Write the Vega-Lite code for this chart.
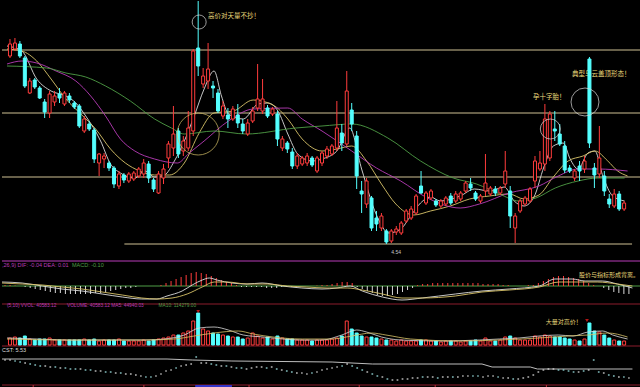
{
"$schema": "https://vega.github.io/schema/vega-lite/v6.json",
"background": "#000000",
"padding": 0,
"spacing": 0,
"config": {"view": {"stroke": null}, "text": {"font": "Noto Sans CJK SC"}},
"resolve": {"scale": {"x": "independent", "y": "independent"}},
"datasets": {
"k": [
{"i":0,"o":6.42,"c":6.54,"h":6.59,"l":6.40,"v":70000,"m":0.01,"s":5.45},
{"i":1,"o":6.49,"c":6.55,"h":6.60,"l":6.47,"v":80000,"m":0.01,"s":5.45},
{"i":2,"o":6.54,"c":6.42,"h":6.57,"l":6.40,"v":70000,"m":0.005,"s":5.40},
{"i":3,"o":6.40,"c":6.12,"h":6.42,"l":6.10,"v":90000,"m":0,"s":5.35},
{"i":4,"o":6.05,"c":6.17,"h":6.20,"l":6.04,"v":60000,"m":-0.01,"s":5.30},
{"i":5,"o":6.18,"c":6.11,"h":6.20,"l":6.09,"v":50000,"m":-0.02,"s":5.25},
{"i":6,"o":6.10,"c":6.00,"h":6.12,"l":5.99,"v":60000,"m":-0.03,"s":5.20},
{"i":7,"o":5.96,"c":5.86,"h":5.99,"l":5.80,"v":60000,"m":-0.04,"s":5.15},
{"i":8,"o":5.85,"c":6.04,"h":6.07,"l":5.80,"v":70000,"m":-0.05,"s":5.15},
{"i":9,"o":5.96,"c":6.02,"h":6.07,"l":5.92,"v":50000,"m":-0.06,"s":5.10},
{"i":10,"o":6.04,"c":6.00,"h":6.10,"l":5.95,"v":50000,"m":-0.07,"s":5.10},
{"i":11,"o":5.94,"c":6.05,"h":6.07,"l":5.92,"v":50000,"m":-0.07,"s":5.05},
{"i":12,"o":6.02,"c":5.98,"h":6.05,"l":5.95,"v":50000,"m":-0.08,"s":5.05},
{"i":13,"o":5.95,"c":5.91,"h":5.97,"l":5.89,"v":50000,"m":-0.08,"s":5.00},
{"i":14,"o":5.92,"c":5.72,"h":5.94,"l":5.70,"v":50000,"m":-0.08,"s":5.00},
{"i":15,"o":5.67,"c":5.79,"h":5.82,"l":5.65,"v":60000,"m":-0.08,"s":5.00},
{"i":16,"o":5.74,"c":5.69,"h":5.77,"l":5.67,"v":50000,"m":-0.08,"s":4.95},
{"i":17,"o":5.68,"c":5.39,"h":5.70,"l":5.35,"v":60000,"m":-0.08,"s":4.95},
{"i":18,"o":5.35,"c":5.44,"h":5.45,"l":5.22,"v":40000,"m":-0.07,"s":4.90},
{"i":19,"o":5.39,"c":5.42,"h":5.45,"l":5.30,"v":50000,"m":-0.07,"s":4.90},
{"i":20,"o":5.35,"c":5.30,"h":5.37,"l":5.27,"v":50000,"m":-0.06,"s":4.85},
{"i":21,"o":5.30,"c":5.14,"h":5.32,"l":5.10,"v":50000,"m":-0.05,"s":4.85},
{"i":22,"o":5.12,"c":5.24,"h":5.27,"l":5.09,"v":60000,"m":-0.04,"s":4.80},
{"i":23,"o":5.23,"c":5.18,"h":5.25,"l":5.15,"v":40000,"m":-0.03,"s":4.80},
{"i":24,"o":5.17,"c":5.24,"h":5.26,"l":5.15,"v":40000,"m":-0.02,"s":4.75},
{"i":25,"o":5.19,"c":5.25,"h":5.27,"l":5.17,"v":40000,"m":-0.02,"s":4.75},
{"i":26,"o":5.22,"c":5.29,"h":5.31,"l":5.20,"v":40000,"m":-0.01,"s":4.70},
{"i":27,"o":5.24,"c":5.35,"h":5.39,"l":5.20,"v":50000,"m":0,"s":4.65},
{"i":28,"o":5.34,"c":5.20,"h":5.37,"l":5.15,"v":40000,"m":0,"s":4.60},
{"i":29,"o":5.18,"c":5.09,"h":5.20,"l":5.06,"v":50000,"m":0,"s":4.60},
{"i":30,"o":5.05,"c":5.24,"h":5.27,"l":5.04,"v":60000,"m":0,"s":4.65},
{"i":31,"o":5.20,"c":5.29,"h":5.34,"l":5.14,"v":70000,"m":0.01,"s":4.75},
{"i":32,"o":5.40,"c":5.54,"h":5.57,"l":5.30,"v":80000,"m":0.03,"s":4.90},
{"i":33,"o":5.50,"c":5.64,"h":5.92,"l":5.42,"v":100000,"m":0.05,"s":4.95},
{"i":34,"o":5.67,"c":5.44,"h":5.70,"l":5.40,"v":100000,"m":0.07,"s":5.05},
{"i":35,"o":5.47,"c":5.57,"h":5.62,"l":5.42,"v":120000,"m":0.09,"s":5.15},
{"i":36,"o":5.50,"c":5.70,"h":5.87,"l":5.47,"v":140000,"m":0.11,"s":5.20},
{"i":37,"o":5.67,"c":6.47,"h":6.49,"l":5.62,"v":240000,"m":0.13,"s":5.25},
{"i":38,"o":6.50,"c":6.32,"h":6.97,"l":6.22,"v":320000,"m":0.14,"s":5.60},
{"i":39,"o":6.14,"c":6.22,"h":6.30,"l":6.10,"v":160000,"m":0.13,"s":5.30},
{"i":40,"o":6.17,"c":6.29,"h":6.55,"l":6.09,"v":140000,"m":0.12,"s":5.30},
{"i":41,"o":6.12,"c":6.10,"h":6.17,"l":6.00,"v":120000,"m":0.10,"s":5.25},
{"i":42,"o":6.05,"c":5.87,"h":6.09,"l":5.85,"v":110000,"m":0.08,"s":5.20},
{"i":43,"o":5.82,"c":5.92,"h":5.97,"l":5.79,"v":100000,"m":0.06,"s":5.15},
{"i":44,"o":5.83,"c":5.79,"h":5.90,"l":5.70,"v":90000,"m":0.04,"s":5.15},
{"i":45,"o":5.79,"c":5.89,"h":5.92,"l":5.77,"v":80000,"m":0.03,"s":5.10},
{"i":46,"o":5.83,"c":5.75,"h":5.94,"l":5.70,"v":80000,"m":0.01,"s":5.05},
{"i":47,"o":5.74,"c":5.67,"h":5.79,"l":5.64,"v":60000,"m":-0.01,"s":5.05},
{"i":48,"o":5.64,"c":5.75,"h":5.79,"l":5.62,"v":70000,"m":-0.01,"s":5.00},
{"i":49,"o":5.77,"c":5.87,"h":5.91,"l":5.75,"v":120000,"m":-0.01,"s":5.05},
{"i":50,"o":5.90,"c":5.99,"h":6.34,"l":5.87,"v":90000,"m":-0.01,"s":5.10},
{"i":51,"o":5.87,"c":5.99,"h":6.19,"l":5.84,"v":70000,"m":-0.01,"s":5.10},
{"i":52,"o":5.90,"c":5.82,"h":5.93,"l":5.80,"v":80000,"m":-0.02,"s":5.05},
{"i":53,"o":5.84,"c":5.89,"h":5.91,"l":5.82,"v":60000,"m":-0.02,"s":5.10},
{"i":54,"o":5.84,"c":5.59,"h":5.87,"l":5.52,"v":90000,"m":-0.02,"s":5.00},
{"i":55,"o":5.50,"c":5.59,"h":5.62,"l":5.47,"v":70000,"m":-0.01,"s":4.95},
{"i":56,"o":5.55,"c":5.49,"h":5.57,"l":5.45,"v":60000,"m":-0.01,"s":4.90},
{"i":57,"o":5.46,"c":5.32,"h":5.50,"l":5.29,"v":60000,"m":-0.01,"s":4.85},
{"i":58,"o":5.32,"c":5.42,"h":5.45,"l":5.29,"v":50000,"m":0,"s":4.80},
{"i":59,"o":5.34,"c":5.40,"h":5.42,"l":5.32,"v":50000,"m":0,"s":4.80},
{"i":60,"o":5.35,"c":5.42,"h":5.45,"l":5.32,"v":50000,"m":0,"s":4.75},
{"i":61,"o":5.40,"c":5.33,"h":5.42,"l":5.31,"v":40000,"m":0,"s":4.80},
{"i":62,"o":5.27,"c":5.40,"h":5.42,"l":5.25,"v":50000,"m":0.005,"s":4.85},
{"i":63,"o":5.35,"c":5.45,"h":5.47,"l":5.32,"v":50000,"m":0.01,"s":4.95},
{"i":64,"o":5.42,"c":5.49,"h":5.52,"l":5.39,"v":50000,"m":0.01,"s":5.00},
{"i":65,"o":5.44,"c":5.52,"h":5.54,"l":5.42,"v":60000,"m":0.02,"s":5.05},
{"i":66,"o":5.50,"c":5.70,"h":5.97,"l":5.47,"v":70000,"m":0.03,"s":5.10},
{"i":67,"o":5.65,"c":5.55,"h":5.74,"l":5.47,"v":90000,"m":0.04,"s":5.15},
{"i":68,"o":5.54,"c":6.07,"h":6.27,"l":5.52,"v":240000,"m":0.04,"s":5.25},
{"i":69,"o":5.88,"c":5.74,"h":5.95,"l":5.67,"v":160000,"m":0.03,"s":5.15},
{"i":70,"o":5.62,"c":5.22,"h":5.67,"l":5.09,"v":120000,"m":-0.01,"s":5.05},
{"i":71,"o":5.07,"c":5.04,"h":5.17,"l":4.85,"v":90000,"m":-0.03,"s":4.95},
{"i":72,"o":4.94,"c":5.17,"h":5.20,"l":4.90,"v":80000,"m":-0.05,"s":4.85},
{"i":73,"o":5.00,"c":4.70,"h":5.02,"l":4.67,"v":80000,"m":-0.07,"s":4.75},
{"i":74,"o":4.80,"c":4.74,"h":4.87,"l":4.67,"v":70000,"m":-0.09,"s":4.65},
{"i":75,"o":4.70,"c":4.82,"h":4.85,"l":4.67,"v":60000,"m":-0.10,"s":4.60},
{"i":76,"o":4.67,"c":4.56,"h":4.69,"l":4.54,"v":50000,"m":-0.10,"s":4.50},
{"i":77,"o":4.57,"c":4.67,"h":4.69,"l":4.55,"v":50000,"m":-0.09,"s":4.45},
{"i":78,"o":4.66,"c":4.69,"h":4.72,"l":4.63,"v":40000,"m":-0.08,"s":4.45},
{"i":79,"o":4.65,"c":4.75,"h":4.77,"l":4.63,"v":50000,"m":-0.06,"s":4.50},
{"i":80,"o":4.77,"c":4.87,"h":4.89,"l":4.75,"v":40000,"m":-0.04,"s":4.50},
{"i":81,"o":4.80,"c":4.89,"h":4.92,"l":4.78,"v":40000,"m":-0.02,"s":4.55},
{"i":82,"o":4.85,"c":5.02,"h":5.04,"l":4.83,"v":40000,"m":0.01,"s":4.55},
{"i":83,"o":5.12,"c":5.05,"h":5.27,"l":5.04,"v":50000,"m":0.02,"s":4.60},
{"i":84,"o":4.95,"c":5.05,"h":5.07,"l":4.93,"v":50000,"m":0.02,"s":4.60},
{"i":85,"o":5.00,"c":5.07,"h":5.09,"l":4.98,"v":40000,"m":0.03,"s":4.60},
{"i":86,"o":4.97,"c":4.93,"h":4.99,"l":4.91,"v":40000,"m":0.03,"s":4.55},
{"i":87,"o":4.92,"c":4.97,"h":4.99,"l":4.90,"v":30000,"m":0.03,"s":4.60},
{"i":88,"o":4.94,"c":5.00,"h":5.02,"l":4.92,"v":40000,"m":0.03,"s":4.60},
{"i":89,"o":5.02,"c":4.95,"h":5.05,"l":4.93,"v":40000,"m":0.03,"s":4.60},
{"i":90,"o":4.97,"c":5.04,"h":5.07,"l":4.95,"v":40000,"m":0.03,"s":4.60},
{"i":91,"o":4.99,"c":5.05,"h":5.07,"l":4.97,"v":30000,"m":0.03,"s":4.65},
{"i":92,"o":5.07,"c":5.15,"h":5.17,"l":5.05,"v":40000,"m":0.03,"s":4.65},
{"i":93,"o":5.14,"c":5.10,"h":5.20,"l":5.07,"v":40000,"m":0.03,"s":4.65},
{"i":94,"o":5.05,"c":4.99,"h":5.07,"l":4.97,"v":50000,"m":0.03,"s":4.65},
{"i":95,"o":4.97,"c":5.02,"h":5.04,"l":4.95,"v":40000,"m":0.02,"s":4.60},
{"i":96,"o":5.07,"c":5.15,"h":5.44,"l":5.02,"v":70000,"m":0.02,"s":4.65},
{"i":97,"o":5.04,"c":5.10,"h":5.12,"l":5.02,"v":40000,"m":0.02,"s":4.65},
{"i":98,"o":5.09,"c":5.05,"h":5.12,"l":5.02,"v":40000,"m":0.02,"s":4.60},
{"i":99,"o":5.05,"c":5.10,"h":5.12,"l":5.03,"v":50000,"m":0.01,"s":4.55},
{"i":100,"o":5.14,"c":5.27,"h":5.47,"l":5.10,"v":80000,"m":0.01,"s":4.55},
{"i":101,"o":5.07,"c":4.82,"h":5.12,"l":4.70,"v":90000,"m":0,"s":4.50},
{"i":102,"o":4.70,"c":4.82,"h":4.85,"l":4.55,"v":70000,"m":0,"s":4.50},
{"i":103,"o":4.87,"c":4.97,"h":4.99,"l":4.85,"v":50000,"m":0,"s":4.55},
{"i":104,"o":4.94,"c":5.00,"h":5.02,"l":4.92,"v":50000,"m":0.01,"s":4.60},
{"i":105,"o":4.97,"c":5.09,"h":5.11,"l":4.95,"v":50000,"m":0.01,"s":4.70},
{"i":106,"o":5.17,"c":5.37,"h":5.42,"l":5.10,"v":90000,"m":0.03,"s":4.85},
{"i":107,"o":5.29,"c":5.35,"h":5.47,"l":5.27,"v":80000,"m":0.05,"s":4.95},
{"i":108,"o":5.34,"c":5.79,"h":5.94,"l":5.27,"v":100000,"m":0.07,"s":5.00},
{"i":109,"o":5.40,"c":5.84,"h":5.87,"l":5.37,"v":90000,"m":0.09,"s":5.00},
{"i":110,"o":5.69,"c":5.67,"h":5.87,"l":5.57,"v":80000,"m":0.10,"s":4.95},
{"i":111,"o":5.64,"c":5.54,"h":5.74,"l":5.52,"v":80000,"m":0.10,"s":4.95},
{"i":112,"o":5.52,"c":5.28,"h":5.57,"l":5.25,"v":70000,"m":0.09,"s":4.90},
{"i":113,"o":5.30,"c":5.27,"h":5.33,"l":5.25,"v":60000,"m":0.08,"s":4.85},
{"i":114,"o":5.20,"c":5.27,"h":5.29,"l":5.17,"v":50000,"m":0.07,"s":4.85},
{"i":115,"o":5.32,"c":5.27,"h":5.37,"l":5.17,"v":40000,"m":0.05,"s":4.90},
{"i":116,"o":5.29,"c":5.37,"h":5.42,"l":5.25,"v":60000,"m":0.03,"s":4.95},
{"i":117,"o":6.39,"c":5.55,"h":6.41,"l":5.50,"v":220000,"m":0.01,"s":5.45},
{"i":118,"o":5.30,"c":5.23,"h":5.35,"l":5.10,"v":140000,"m":0,"s":4.85},
{"i":119,"o":5.24,"c":5.40,"h":5.72,"l":5.20,"v":130000,"m":-0.02,"s":4.80},
{"i":120,"o":5.22,"c":5.07,"h":5.27,"l":5.02,"v":100000,"m":-0.04,"s":4.70},
{"i":121,"o":4.99,"c":4.94,"h":5.04,"l":4.90,"v":70000,"m":-0.06,"s":4.65},
{"i":122,"o":4.92,"c":5.04,"h":5.09,"l":4.90,"v":50000,"m":-0.07,"s":4.60},
{"i":123,"o":5.04,"c":4.89,"h":5.07,"l":4.87,"v":40000,"m":-0.08,"s":4.60},
{"i":124,"o":4.89,"c":4.95,"h":4.97,"l":4.87,"v":40000,"m":-0.08,"s":4.55}
],
"ma": [
{"n":"MA5","i":-0.6,"p":6.52},{"n":"MA5","i":2.4,"p":6.47},{"n":"MA5","i":5.4,"p":6.19},{"n":"MA5","i":8.3,"p":6.07},{"n":"MA5","i":11.3,"p":6.02},{"n":"MA5","i":13.3,"p":5.95},{"n":"MA5","i":15.3,"p":5.82},{"n":"MA5","i":18.3,"p":5.57},{"n":"MA5","i":20.3,"p":5.34},{"n":"MA5","i":22.3,"p":5.25},{"n":"MA5","i":25.2,"p":5.20},{"n":"MA5","i":27.2,"p":5.27},{"n":"MA5","i":29.2,"p":5.21},{"n":"MA5","i":31.2,"p":5.23},{"n":"MA5","i":33.2,"p":5.37},{"n":"MA5","i":35.2,"p":5.57},{"n":"MA5","i":37.2,"p":5.82},{"n":"MA5","i":39.2,"p":6.09},{"n":"MA5","i":41.2,"p":6.27},{"n":"MA5","i":42.7,"p":6.02},{"n":"MA5","i":44.1,"p":5.84},{"n":"MA5","i":47.1,"p":5.79},{"n":"MA5","i":50.1,"p":5.94},{"n":"MA5","i":52.1,"p":5.95},{"n":"MA5","i":54.1,"p":5.87},{"n":"MA5","i":56.1,"p":5.64},{"n":"MA5","i":58.1,"p":5.44},{"n":"MA5","i":61.0,"p":5.37},{"n":"MA5","i":63.0,"p":5.39},{"n":"MA5","i":66.0,"p":5.47},{"n":"MA5","i":68.6,"p":5.70},{"n":"MA5","i":71.0,"p":5.29},{"n":"MA5","i":74.0,"p":4.83},{"n":"MA5","i":76.5,"p":4.65},{"n":"MA5","i":78.9,"p":4.69},{"n":"MA5","i":80.9,"p":4.82},{"n":"MA5","i":82.9,"p":4.95},{"n":"MA5","i":84.9,"p":5.01},{"n":"MA5","i":86.9,"p":4.97},{"n":"MA5","i":90.9,"p":5.02},{"n":"MA5","i":93.8,"p":5.09},{"n":"MA5","i":96.8,"p":5.07},{"n":"MA5","i":99.8,"p":5.11},{"n":"MA5","i":101.8,"p":4.97},{"n":"MA5","i":103.8,"p":4.92},{"n":"MA5","i":105.8,"p":5.01},{"n":"MA5","i":107.8,"p":5.31},{"n":"MA5","i":109.7,"p":5.52},{"n":"MA5","i":111.7,"p":5.55},{"n":"MA5","i":113.1,"p":5.39},{"n":"MA5","i":114.7,"p":5.29},{"n":"MA5","i":116.7,"p":5.45},{"n":"MA5","i":118.1,"p":5.47},{"n":"MA5","i":119.7,"p":5.22},{"n":"MA5","i":121.7,"p":5.02},{"n":"MA5","i":124.1,"p":4.97},
{"n":"MA10","i":-0.6,"p":6.49},{"n":"MA10","i":2.4,"p":6.47},{"n":"MA10","i":5.4,"p":6.37},{"n":"MA10","i":8.3,"p":6.19},{"n":"MA10","i":11.3,"p":5.99},{"n":"MA10","i":14.3,"p":5.84},{"n":"MA10","i":17.3,"p":5.69},{"n":"MA10","i":20.3,"p":5.49},{"n":"MA10","i":23.3,"p":5.35},{"n":"MA10","i":26.2,"p":5.27},{"n":"MA10","i":29.2,"p":5.23},{"n":"MA10","i":32.2,"p":5.23},{"n":"MA10","i":35.2,"p":5.35},{"n":"MA10","i":38.2,"p":5.65},{"n":"MA10","i":41.2,"p":5.85},{"n":"MA10","i":45.1,"p":5.87},{"n":"MA10","i":49.1,"p":5.98},{"n":"MA10","i":53.1,"p":5.93},{"n":"MA10","i":56.1,"p":5.79},{"n":"MA10","i":59.0,"p":5.59},{"n":"MA10","i":63.0,"p":5.47},{"n":"MA10","i":66.0,"p":5.49},{"n":"MA10","i":69.0,"p":5.52},{"n":"MA10","i":72.0,"p":5.37},{"n":"MA10","i":75.0,"p":5.14},{"n":"MA10","i":77.9,"p":4.94},{"n":"MA10","i":81.5,"p":4.83},{"n":"MA10","i":84.9,"p":4.87},{"n":"MA10","i":88.9,"p":4.92},{"n":"MA10","i":92.8,"p":4.99},{"n":"MA10","i":96.8,"p":5.02},{"n":"MA10","i":100.8,"p":5.04},{"n":"MA10","i":103.8,"p":4.99},{"n":"MA10","i":106.8,"p":5.03},{"n":"MA10","i":109.7,"p":5.21},{"n":"MA10","i":112.7,"p":5.37},{"n":"MA10","i":115.7,"p":5.42},{"n":"MA10","i":118.1,"p":5.47},{"n":"MA10","i":120.7,"p":5.37},{"n":"MA10","i":122.7,"p":5.27},{"n":"MA10","i":124.7,"p":5.22},
{"n":"MA20","i":-0.6,"p":6.34},{"n":"MA20","i":2.4,"p":6.37},{"n":"MA20","i":5.4,"p":6.35},{"n":"MA20","i":9.3,"p":6.27},{"n":"MA20","i":13.3,"p":6.17},{"n":"MA20","i":16.3,"p":6.02},{"n":"MA20","i":19.3,"p":5.82},{"n":"MA20","i":22.3,"p":5.59},{"n":"MA20","i":25.2,"p":5.47},{"n":"MA20","i":29.2,"p":5.39},{"n":"MA20","i":33.8,"p":5.35},{"n":"MA20","i":36.2,"p":5.45},{"n":"MA20","i":39.2,"p":5.57},{"n":"MA20","i":44.1,"p":5.77},{"n":"MA20","i":49.1,"p":5.89},{"n":"MA20","i":56.1,"p":5.90},{"n":"MA20","i":59.0,"p":5.79},{"n":"MA20","i":63.0,"p":5.67},{"n":"MA20","i":69.0,"p":5.47},{"n":"MA20","i":74.0,"p":5.30},{"n":"MA20","i":78.9,"p":5.17},{"n":"MA20","i":84.3,"p":5.00},{"n":"MA20","i":90.9,"p":4.90},{"n":"MA20","i":94.8,"p":4.94},{"n":"MA20","i":100.8,"p":5.05},{"n":"MA20","i":106.8,"p":5.12},{"n":"MA20","i":110.7,"p":5.22},{"n":"MA20","i":114.7,"p":5.29},{"n":"MA20","i":118.7,"p":5.29},{"n":"MA20","i":124.7,"p":5.27},
{"n":"MA60","i":-0.6,"p":6.32},{"n":"MA60","i":7.4,"p":6.30},{"n":"MA60","i":11.3,"p":6.25},{"n":"MA60","i":15.3,"p":6.21},{"n":"MA60","i":19.3,"p":6.12},{"n":"MA60","i":24.3,"p":5.97},{"n":"MA60","i":29.2,"p":5.79},{"n":"MA60","i":32.6,"p":5.70},{"n":"MA60","i":35.2,"p":5.64},{"n":"MA60","i":41.2,"p":5.67},{"n":"MA60","i":47.7,"p":5.64},{"n":"MA60","i":57.7,"p":5.70},{"n":"MA60","i":63.0,"p":5.72},{"n":"MA60","i":69.0,"p":5.74},{"n":"MA60","i":76.3,"p":5.60},{"n":"MA60","i":82.9,"p":5.37},{"n":"MA60","i":89.5,"p":5.20},{"n":"MA60","i":94.2,"p":5.14},{"n":"MA60","i":98.8,"p":5.04},{"n":"MA60","i":102.8,"p":4.97},{"n":"MA60","i":106.2,"p":5.00},{"n":"MA60","i":110.1,"p":5.10},{"n":"MA60","i":114.7,"p":5.17},{"n":"MA60","i":118.7,"p":5.20},{"n":"MA60","i":124.1,"p":5.20}
],
"macd": [
{"n":"DIF","i":-0.6,"v":0.04},{"n":"DIF","i":3.4,"v":0.03},{"n":"DIF","i":7.4,"v":0},{"n":"DIF","i":11.3,"v":-0.03},{"n":"DIF","i":15.3,"v":-0.05},{"n":"DIF","i":19.3,"v":-0.08},{"n":"DIF","i":23.3,"v":-0.11},{"n":"DIF","i":27.2,"v":-0.13},{"n":"DIF","i":30.2,"v":-0.13},{"n":"DIF","i":32.2,"v":-0.10},{"n":"DIF","i":35.2,"v":-0.05},{"n":"DIF","i":37.2,"v":0.01},{"n":"DIF","i":39.2,"v":0.06},{"n":"DIF","i":40.6,"v":0.08},{"n":"DIF","i":42.1,"v":0.06},{"n":"DIF","i":45.1,"v":0.03},{"n":"DIF","i":48.1,"v":0.02},{"n":"DIF","i":51.1,"v":0.03},{"n":"DIF","i":55.1,"v":0},{"n":"DIF","i":59.0,"v":-0.02},{"n":"DIF","i":63.0,"v":-0.03},{"n":"DIF","i":66.0,"v":-0.02},{"n":"DIF","i":68.6,"v":0},{"n":"DIF","i":71.0,"v":-0.05},{"n":"DIF","i":75.0,"v":-0.11},{"n":"DIF","i":78.9,"v":-0.14},{"n":"DIF","i":82.9,"v":-0.12},{"n":"DIF","i":89.5,"v":-0.08},{"n":"DIF","i":94.8,"v":-0.05},{"n":"DIF","i":100.2,"v":-0.03},{"n":"DIF","i":106.2,"v":0},{"n":"DIF","i":109.3,"v":0.07},{"n":"DIF","i":112.7,"v":0.07},{"n":"DIF","i":115.3,"v":0.05},{"n":"DIF","i":118.7,"v":0.05},{"n":"DIF","i":121.7,"v":0.02},{"n":"DIF","i":124.7,"v":-0.02},
{"n":"DEA","i":-0.6,"v":0.03},{"n":"DEA","i":3.4,"v":0.02},{"n":"DEA","i":7.4,"v":0.01},{"n":"DEA","i":11.3,"v":-0.01},{"n":"DEA","i":15.3,"v":-0.03},{"n":"DEA","i":19.3,"v":-0.06},{"n":"DEA","i":23.3,"v":-0.09},{"n":"DEA","i":27.2,"v":-0.12},{"n":"DEA","i":30.2,"v":-0.13},{"n":"DEA","i":33.2,"v":-0.12},{"n":"DEA","i":36.2,"v":-0.08},{"n":"DEA","i":39.2,"v":-0.01},{"n":"DEA","i":41.6,"v":0.04},{"n":"DEA","i":44.1,"v":0.04},{"n":"DEA","i":48.1,"v":0.02},{"n":"DEA","i":52.1,"v":0.02},{"n":"DEA","i":56.1,"v":0},{"n":"DEA","i":60.0,"v":-0.01},{"n":"DEA","i":64.0,"v":-0.02},{"n":"DEA","i":68.0,"v":-0.02},{"n":"DEA","i":71.0,"v":-0.04},{"n":"DEA","i":75.0,"v":-0.08},{"n":"DEA","i":78.9,"v":-0.12},{"n":"DEA","i":82.9,"v":-0.12},{"n":"DEA","i":89.5,"v":-0.10},{"n":"DEA","i":94.8,"v":-0.06},{"n":"DEA","i":100.2,"v":-0.04},{"n":"DEA","i":106.2,"v":-0.01},{"n":"DEA","i":110.1,"v":0.04},{"n":"DEA","i":113.7,"v":0.04},{"n":"DEA","i":117.7,"v":0.04},{"n":"DEA","i":121.7,"v":0.02},{"n":"DEA","i":124.7,"v":0}
],
"vma": [
{"n":"M5","i":-0.6,"v":70000},{"n":"M5","i":5.4,"v":60000},{"n":"M5","i":11.3,"v":50000},{"n":"M5","i":19.3,"v":50000},{"n":"M5","i":27.2,"v":50000},{"n":"M5","i":31.2,"v":60000},{"n":"M5","i":35.2,"v":100000},{"n":"M5","i":38.2,"v":170000},{"n":"M5","i":41.2,"v":180000},{"n":"M5","i":44.1,"v":150000},{"n":"M5","i":47.1,"v":100000},{"n":"M5","i":51.1,"v":80000},{"n":"M5","i":55.1,"v":60000},{"n":"M5","i":59.0,"v":50000},{"n":"M5","i":63.0,"v":50000},{"n":"M5","i":67.0,"v":100000},{"n":"M5","i":70.0,"v":150000},{"n":"M5","i":72.0,"v":130000},{"n":"M5","i":75.0,"v":80000},{"n":"M5","i":78.9,"v":50000},{"n":"M5","i":86.9,"v":40000},{"n":"M5","i":94.8,"v":50000},{"n":"M5","i":98.8,"v":60000},{"n":"M5","i":102.8,"v":70000},{"n":"M5","i":106.8,"v":90000},{"n":"M5","i":110.7,"v":100000},{"n":"M5","i":113.7,"v":90000},{"n":"M5","i":116.7,"v":130000},{"n":"M5","i":119.7,"v":140000},{"n":"M5","i":121.7,"v":100000},{"n":"M5","i":124.7,"v":60000},
{"n":"M10","i":-0.6,"v":60000},{"n":"M10","i":11.3,"v":50000},{"n":"M10","i":27.2,"v":50000},{"n":"M10","i":33.2,"v":60000},{"n":"M10","i":37.2,"v":90000},{"n":"M10","i":41.2,"v":120000},{"n":"M10","i":46.1,"v":140000},{"n":"M10","i":49.1,"v":110000},{"n":"M10","i":53.1,"v":80000},{"n":"M10","i":59.0,"v":60000},{"n":"M10","i":65.0,"v":60000},{"n":"M10","i":69.0,"v":90000},{"n":"M10","i":73.0,"v":120000},{"n":"M10","i":75.9,"v":100000},{"n":"M10","i":80.9,"v":60000},{"n":"M10","i":90.9,"v":40000},{"n":"M10","i":98.8,"v":50000},{"n":"M10","i":106.8,"v":70000},{"n":"M10","i":112.7,"v":90000},{"n":"M10","i":116.7,"v":100000},{"n":"M10","i":120.7,"v":120000},{"n":"M10","i":124.7,"v":80000}
],
"cst": [
{"i":-0.6,"s":5.50},{"i":32.2,"s":5.50},{"i":37.2,"s":5.45},{"i":45.1,"s":5.40},{"i":65.0,"s":5.35},{"i":73.0,"s":5.25},{"i":94.8,"s":5.25},{"i":96.8,"s":5.10},{"i":104.4,"s":5.10},{"i":105.8,"s":5.00},{"i":124.7,"s":5.00}
]
},
"vconcat": [
{
"width": 640, "height": 258,
"layer": [
{"data": {"values": [{"p":6.48},{"p":5.85},{"p":5.21}]},
 "mark": {"type": "rule", "color": "#cfc194", "strokeWidth": 1},
 "encoding": {"y": {"field": "p", "type": "quantitative", "scale": {"domain": [4.39, 6.97], "nice": false, "zero": false}, "axis": null}}},
{"data": {"values": [{"p":4.54,"a":23.1,"b":125.6}]},
 "mark": {"type": "rule", "color": "#cfc194", "strokeWidth": 1},
 "encoding": {"x": {"field": "a", "type": "quantitative", "scale": {"domain": [-0.6, 126.6], "nice": false, "zero": false}, "axis": null}, "x2": {"field": "b"},
   "y": {"field": "p", "type": "quantitative", "scale": {"domain": [4.39, 6.97], "nice": false, "zero": false}, "axis": null}}},
{"data": {"values": [{"i":40.0,"p":6.82,"t":"高价对天量不抄！"},{"i":105.6,"p":6.01,"t":"孕十字胎！"},{"i":113.5,"p":6.24,"t":"典型乌云盖顶形态！"}]},
 "mark": {"type": "text", "align": "left", "baseline": "middle", "fontSize": 6.5, "color": "#e8d77a"},
 "encoding": {"x": {"field": "i", "type": "quantitative", "scale": {"domain": [-0.6, 126.6], "nice": false, "zero": false}, "axis": null},
   "y": {"field": "p", "type": "quantitative", "scale": {"domain": [4.39, 6.97], "nice": false, "zero": false}, "axis": null},
   "text": {"field": "t"}}},
{"data": {"name": "ma"},
 "mark": {"type": "line", "strokeWidth": 0.9, "interpolate": "monotone"},
 "encoding": {"x": {"field": "i", "type": "quantitative", "scale": {"domain": [-0.6, 126.6], "nice": false, "zero": false}, "axis": null},
   "y": {"field": "p", "type": "quantitative", "scale": {"domain": [4.39, 6.97], "nice": false, "zero": false}, "axis": null},
   "color": {"field": "n", "type": "nominal", "scale": {"domain": ["MA5","MA10","MA20","MA60"], "range": ["#dcdcdc","#d9c46a","#b93cb9","#4f9e46"]}, "legend": null}}},
{"data": {"name": "k"},
 "mark": {"type": "rule", "strokeWidth": 1},
 "encoding": {"x": {"field": "i", "type": "quantitative", "scale": {"domain": [-0.6, 126.6], "nice": false, "zero": false}, "axis": null},
   "y": {"field": "l", "type": "quantitative", "scale": {"domain": [4.39, 6.97], "nice": false, "zero": false}, "axis": null},
   "y2": {"field": "h"},
   "color": {"condition": {"test": "datum.c >= datum.o", "value": "#ff3c3c"}, "value": "#54ffff"}}},
{"data": {"name": "k"},
 "mark": {"type": "bar", "size": 3, "strokeWidth": 1},
 "encoding": {"x": {"field": "i", "type": "quantitative", "scale": {"domain": [-0.6, 126.6], "nice": false, "zero": false}, "axis": null},
   "y": {"field": "o", "type": "quantitative", "scale": {"domain": [4.39, 6.97], "nice": false, "zero": false}, "axis": null},
   "y2": {"field": "c"},
   "fill": {"condition": {"test": "datum.c >= datum.o", "value": "#000000"}, "value": "#54ffff"},
   "stroke": {"condition": {"test": "datum.c >= datum.o", "value": "#ff3c3c"}, "value": "#54ffff"}}},
{"data": {"values": [{"i":38.2,"p":6.76,"z":196,"k":"a"},{"i":38.0,"p":5.64,"z":1764,"k":"b"},{"i":109.1,"p":5.69,"z":400,"k":"a"},{"i":116.1,"p":5.96,"z":784,"k":"a"}]},
 "mark": {"type": "point", "shape": "circle", "filled": false, "strokeWidth": 1},
 "encoding": {"x": {"field": "i", "type": "quantitative", "scale": {"domain": [-0.6, 126.6], "nice": false, "zero": false}, "axis": null},
   "y": {"field": "p", "type": "quantitative", "scale": {"domain": [4.39, 6.97], "nice": false, "zero": false}, "axis": null},
   "size": {"field": "z", "type": "quantitative", "scale": null},
   "color": {"field": "k", "type": "nominal", "scale": {"domain": ["a","b"], "range": ["#d6cfae","#b8a452"]}, "legend": null}}},
{"data": {"values": [{"i":77.0,"p":4.46,"t":"4.54"}]},
 "mark": {"type": "text", "align": "left", "baseline": "middle", "fontSize": 5, "color": "#c8c8c8", "font": "Liberation Sans"},
 "encoding": {"x": {"field": "i", "type": "quantitative", "scale": {"domain": [-0.6, 126.6], "nice": false, "zero": false}, "axis": null},
   "y": {"field": "p", "type": "quantitative", "scale": {"domain": [4.39, 6.97], "nice": false, "zero": false}, "axis": null},
   "text": {"field": "t"}}}
]
},
{
"width": 640, "height": 42,
"layer": [
{"data": {"values": [{"m":0.25,"c":"r"},{"m":0,"c":"z"}]},
 "mark": {"type": "rule", "strokeWidth": 1},
 "encoding": {"y": {"field": "m", "type": "quantitative", "scale": {"domain": [-0.15, 0.27], "nice": false, "zero": false}, "axis": null},
   "color": {"field": "c", "type": "nominal", "scale": {"domain": ["r","z"], "range": ["#8c1c2c","#8a8a8a"]}, "legend": null}}},
{"data": {"name": "k"},
 "mark": {"type": "rule", "strokeWidth": 1},
 "encoding": {"x": {"field": "i", "type": "quantitative", "scale": {"domain": [-0.6, 126.6], "nice": false, "zero": false}, "axis": null},
   "y": {"field": "m", "type": "quantitative", "scale": {"domain": [-0.15, 0.27], "nice": false, "zero": false}, "axis": null},
   "y2": {"datum": 0},
   "color": {"condition": {"test": "datum.m >= 0", "value": "#ff3c3c"}, "value": "#d8d8d8"}}},
{"data": {"name": "macd"},
 "mark": {"type": "line", "strokeWidth": 0.9, "interpolate": "monotone"},
 "encoding": {"x": {"field": "i", "type": "quantitative", "scale": {"domain": [-0.6, 126.6], "nice": false, "zero": false}, "axis": null},
   "y": {"field": "v", "type": "quantitative", "scale": {"domain": [-0.15, 0.27], "nice": false, "zero": false}, "axis": null},
   "color": {"field": "n", "type": "nominal", "scale": {"domain": ["DIF","DEA"], "range": ["#e6e6e6","#d9c46a"]}, "legend": null}}},
{"data": {"values": [{"i":-0.6,"m":0.21,"t":",26,9) DIF: -0.04  DEA: 0.01","k":"w"},{"i":13.3,"m":0.21,"t":"MACD: -0.10","k":"p"}]},
 "mark": {"type": "text", "align": "left", "baseline": "middle", "fontSize": 5.5, "font": "Liberation Sans"},
 "encoding": {"x": {"field": "i", "type": "quantitative", "scale": {"domain": [-0.6, 126.6], "nice": false, "zero": false}, "axis": null},
   "y": {"field": "m", "type": "quantitative", "scale": {"domain": [-0.15, 0.27], "nice": false, "zero": false}, "axis": null},
   "text": {"field": "t"},
   "color": {"field": "k", "type": "nominal", "scale": {"domain": ["w","p"], "range": ["#dcdcdc","#d040d0"]}, "legend": null}}},
{"data": {"values": [{"i":114.1,"m":0.11,"t":"股价与指标形成背离。"}]},
 "mark": {"type": "text", "align": "left", "baseline": "middle", "fontSize": 6, "color": "#e8d77a"},
 "encoding": {"x": {"field": "i", "type": "quantitative", "scale": {"domain": [-0.6, 126.6], "nice": false, "zero": false}, "axis": null},
   "y": {"field": "m", "type": "quantitative", "scale": {"domain": [-0.15, 0.27], "nice": false, "zero": false}, "axis": null},
   "text": {"field": "t"}}}
]
},
{
"width": 640, "height": 45,
"layer": [
{"data": {"values": [{"v":410000},{"v":-10000}]},
 "mark": {"type": "rule", "strokeWidth": 1, "color": "#8c1c2c"},
 "encoding": {"y": {"field": "v", "type": "quantitative", "scale": {"domain": [-20000, 430000], "nice": false, "zero": false}, "axis": null}}},
{"data": {"name": "k"},
 "mark": {"type": "bar", "size": 3, "strokeWidth": 1},
 "encoding": {"x": {"field": "i", "type": "quantitative", "scale": {"domain": [-0.6, 126.6], "nice": false, "zero": false}, "axis": null},
   "y": {"field": "v", "type": "quantitative", "scale": {"domain": [-20000, 430000], "nice": false, "zero": false}, "axis": null},
   "y2": {"datum": 0},
   "fill": {"condition": {"test": "datum.c >= datum.o", "value": "#000000"}, "value": "#54ffff"},
   "stroke": {"condition": {"test": "datum.c >= datum.o", "value": "#ff3c3c"}, "value": "#54ffff"}}},
{"data": {"name": "vma"},
 "mark": {"type": "line", "strokeWidth": 0.8, "interpolate": "monotone"},
 "encoding": {"x": {"field": "i", "type": "quantitative", "scale": {"domain": [-0.6, 126.6], "nice": false, "zero": false}, "axis": null},
   "y": {"field": "v", "type": "quantitative", "scale": {"domain": [-20000, 430000], "nice": false, "zero": false}, "axis": null},
   "color": {"field": "n", "type": "nominal", "scale": {"domain": ["M5","M10"], "range": ["#d0d0d0","#b93cb9"]}, "legend": null}}},
{"data": {"values": [{"i":38,"v":335000},{"i":116.5,"v":245000}]},
 "mark": {"type": "point", "shape": "triangle-down", "filled": true, "size": 14, "color": "#ff2020"},
 "encoding": {"x": {"field": "i", "type": "quantitative", "scale": {"domain": [-0.6, 126.6], "nice": false, "zero": false}, "axis": null},
   "y": {"field": "v", "type": "quantitative", "scale": {"domain": [-20000, 430000], "nice": false, "zero": false}, "axis": null}}},
{"data": {"values": [{"i":-0.6,"v":390000,"t":"(5,10) VVOL: 40583.12","k":"w"},{"i":11.5,"v":390000,"t":"VOLUME: 40583.12  MA5: 44940.03","k":"y"},{"i":30.0,"v":390000,"t":"MA10: 114279.00","k":"p"}]},
 "mark": {"type": "text", "align": "left", "baseline": "middle", "fontSize": 4.8, "font": "Liberation Sans"},
 "encoding": {"x": {"field": "i", "type": "quantitative", "scale": {"domain": [-0.6, 126.6], "nice": false, "zero": false}, "axis": null},
   "y": {"field": "v", "type": "quantitative", "scale": {"domain": [-20000, 430000], "nice": false, "zero": false}, "axis": null},
   "text": {"field": "t"},
   "color": {"field": "k", "type": "nominal", "scale": {"domain": ["w","y","p"], "range": ["#dcdcdc","#e0d48a","#d040d0"]}, "legend": null}}},
{"data": {"values": [{"i":108.2,"v":230000,"t":"大量对高价！"}]},
 "mark": {"type": "text", "align": "left", "baseline": "middle", "fontSize": 6, "color": "#e8d77a"},
 "encoding": {"x": {"field": "i", "type": "quantitative", "scale": {"domain": [-0.6, 126.6], "nice": false, "zero": false}, "axis": null},
   "y": {"field": "v", "type": "quantitative", "scale": {"domain": [-20000, 430000], "nice": false, "zero": false}, "axis": null},
   "text": {"field": "t"}}}
]
},
{
"width": 640, "height": 42,
"layer": [
{"data": {"values": [{"s":4.2}]},
 "mark": {"type": "rule", "strokeWidth": 1, "color": "#8c1c2c"},
 "encoding": {"y": {"field": "s", "type": "quantitative", "scale": {"domain": [4.0, 6.1], "nice": false, "zero": false}, "axis": null}}},
{"data": {"name": "cst"},
 "mark": {"type": "line", "strokeWidth": 1, "color": "#bdbdbd"},
 "encoding": {"x": {"field": "i", "type": "quantitative", "scale": {"domain": [-0.6, 126.6], "nice": false, "zero": false}, "axis": null},
   "y": {"field": "s", "type": "quantitative", "scale": {"domain": [4.0, 6.1], "nice": false, "zero": false}, "axis": null}}},
{"data": {"name": "k"},
 "mark": {"type": "point", "shape": "square", "filled": true, "size": 3},
 "encoding": {"x": {"field": "i", "type": "quantitative", "scale": {"domain": [-0.6, 126.6], "nice": false, "zero": false}, "axis": null},
   "y": {"field": "s", "type": "quantitative", "scale": {"domain": [4.0, 6.1], "nice": false, "zero": false}, "axis": null},
   "color": {"condition": {"test": "datum.c >= datum.o", "value": "#e0e0e0"}, "value": "#9fe8e8"}}},
{"data": {"values": [{"i":5.6},{"i":27.6},{"i":48.5},{"i":70.4},{"i":85.5},{"i":107.6}]},
 "mark": {"type": "rule", "strokeWidth": 1, "color": "#c0303a"},
 "encoding": {"x": {"field": "i", "type": "quantitative", "scale": {"domain": [-0.6, 126.6], "nice": false, "zero": false}, "axis": null},
   "y": {"datum": 4.2, "type": "quantitative", "scale": {"domain": [4.0, 6.1], "nice": false, "zero": false}, "axis": null},
   "y2": {"datum": 4.0}}},
{"data": {"values": [{"a":37.8,"b":45.1}]},
 "mark": {"type": "rect", "color": "#3434c8"},
 "encoding": {"x": {"field": "a", "type": "quantitative", "scale": {"domain": [-0.6, 126.6], "nice": false, "zero": false}, "axis": null},
   "x2": {"field": "b"},
   "y": {"datum": 4.2, "type": "quantitative", "scale": {"domain": [4.0, 6.1], "nice": false, "zero": false}, "axis": null},
   "y2": {"datum": 4.0}}},
{"data": {"values": [{"i":-0.6,"s":5.95,"t":"CST: 5.53"}]},
 "mark": {"type": "text", "align": "left", "baseline": "middle", "fontSize": 5.5, "font": "Liberation Sans", "color": "#dcdcdc"},
 "encoding": {"x": {"field": "i", "type": "quantitative", "scale": {"domain": [-0.6, 126.6], "nice": false, "zero": false}, "axis": null},
   "y": {"field": "s", "type": "quantitative", "scale": {"domain": [4.0, 6.1], "nice": false, "zero": false}, "axis": null},
   "text": {"field": "t"}}}
]
}
]
}
